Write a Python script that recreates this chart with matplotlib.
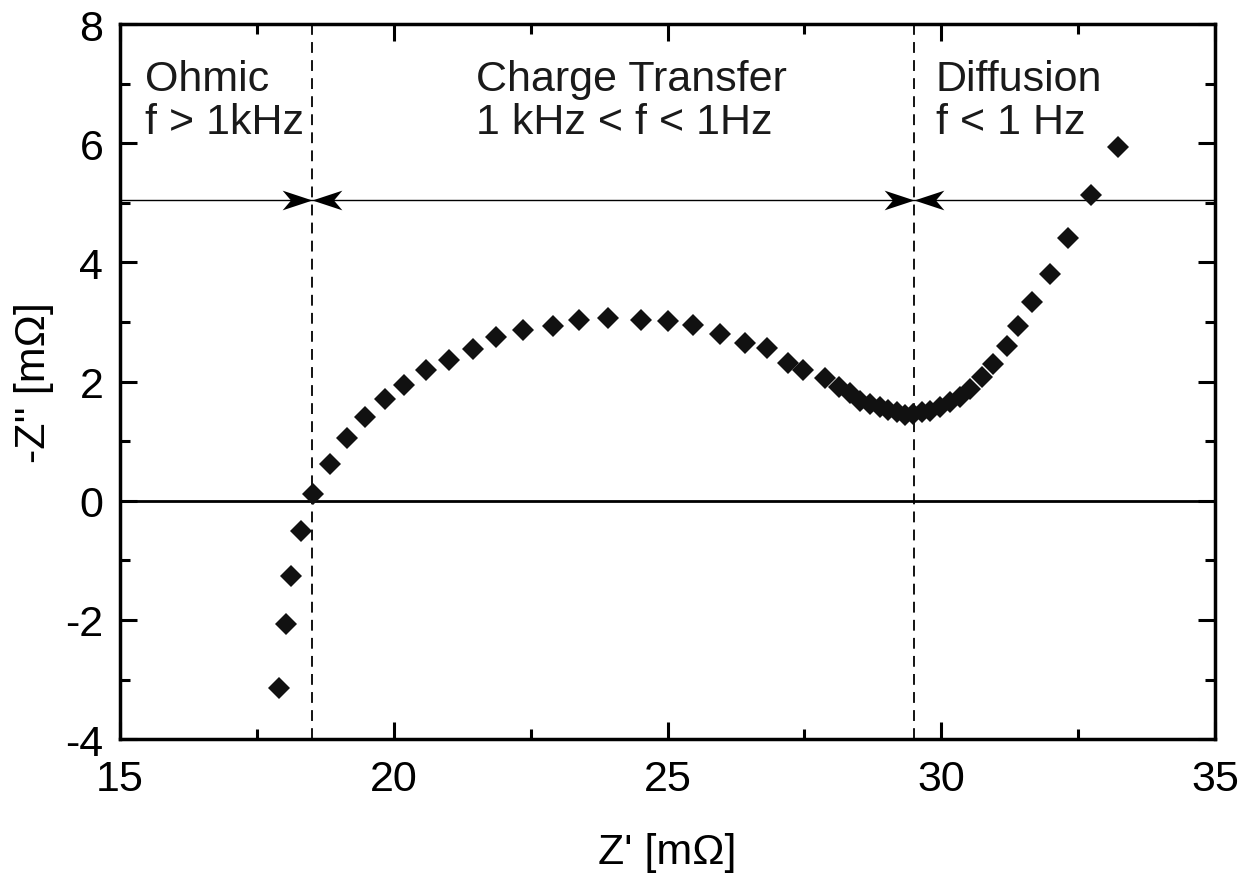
import matplotlib
matplotlib.use("Agg")
import matplotlib.pyplot as plt
from matplotlib.path import Path
from matplotlib.ticker import MultipleLocator
import numpy as np

plt.rcParams['font.family'] = ['Liberation Sans', 'DejaVu Sans']
plt.rcParams['axes.unicode_minus'] = False

z_real = [17.90, 18.03, 18.12, 18.31, 18.53, 18.84, 19.15, 19.47, 19.84, 20.19,
          20.59, 21.01, 21.45, 21.87, 22.36, 22.91, 23.38, 23.91, 24.52, 25.01,
          25.47, 25.96, 26.42, 26.82, 27.20, 27.47, 27.88, 28.13, 28.33, 28.52,
          28.70, 28.88, 29.03, 29.19, 29.34, 29.48, 29.65, 29.79, 29.98, 30.16,
          30.34, 30.53, 30.74, 30.95, 31.20, 31.40, 31.66, 31.99, 32.31, 32.74,
          33.23]
z_imag = [-3.14, -2.07, -1.26, -0.51, 0.11, 0.61, 1.05, 1.40, 1.71, 1.94,
          2.19, 2.36, 2.55, 2.75, 2.86, 2.93, 3.03, 3.07, 3.03, 3.02,
          2.95, 2.80, 2.65, 2.56, 2.31, 2.19, 2.06, 1.91, 1.81, 1.67,
          1.62, 1.57, 1.52, 1.49, 1.44, 1.45, 1.49, 1.50, 1.57, 1.66,
          1.74, 1.87, 2.08, 2.29, 2.60, 2.93, 3.33, 3.80, 4.41, 5.13,
          5.94]

boundaries = [18.5, 29.5]
arrow_level = 5.05
region_labels = ["Ohmic\nf > 1kHz", "Charge Transfer\n1 kHz < f < 1Hz", "Diffusion\nf < 1 Hz"]
region_label_x = [15.45, 21.5, 29.9]
region_label_y = 7.42

fig = plt.figure(figsize=(12.5, 8.78), dpi=100)
ax = fig.add_axes([0.096, 0.157, 0.876, 0.8145])

ax.set_xlim(15, 35)
ax.set_ylim(-4, 8)

ax.axhline(0, color='black', lw=2, zorder=1)
ax.axhline(arrow_level, color='black', lw=1, zorder=1)
for b in boundaries:
    ax.axvline(b, color='black', lw=1.3, ls=(0, (6, 4)), zorder=1)

# stealth arrowheads
right_head = Path([(0, 0), (-1, 0.33), (-0.72, 0), (-1, -0.33), (0, 0)],
                  [Path.MOVETO, Path.LINETO, Path.LINETO, Path.LINETO, Path.CLOSEPOLY])
left_head = Path([(0, 0), (1, 0.33), (0.72, 0), (1, -0.33), (0, 0)],
                 [Path.MOVETO, Path.LINETO, Path.LINETO, Path.LINETO, Path.CLOSEPOLY])
for b in boundaries:
    ax.plot([b], [arrow_level], marker=right_head, ms=43, color='black', mew=0, zorder=3)
    ax.plot([b], [arrow_level], marker=left_head, ms=43, color='black', mew=0, zorder=3)

ax.plot(z_real, z_imag, ls='none', marker='D', ms=11.5, color='#111111', mew=0, zorder=4)

for txt, x in zip(region_labels, region_label_x):
    ax.text(x, region_label_y, txt, fontsize=31, ha='left', va='top',
            linespacing=1.12, color='#1a1a1a')

ax.xaxis.set_major_locator(MultipleLocator(5))
ax.xaxis.set_minor_locator(MultipleLocator(2.5))
ax.yaxis.set_major_locator(MultipleLocator(2))
ax.yaxis.set_minor_locator(MultipleLocator(1))
ax.tick_params(which='both', direction='in', top=True, right=True, width=2.2,
               labelsize=31, colors='black')
ax.tick_params(which='major', length=12)
ax.tick_params(axis='x', which='major', pad=14)
ax.tick_params(axis='y', which='major', pad=12)
ax.tick_params(which='minor', length=7)
for s in ax.spines.values():
    s.set_linewidth(2.5)

ax.set_xlabel("Z' [m\u03a9]", fontsize=31, labelpad=24)
ax.set_ylabel("-Z'' [m\u03a9]", fontsize=31, labelpad=8)

fig.savefig("out.png", dpi=100)
